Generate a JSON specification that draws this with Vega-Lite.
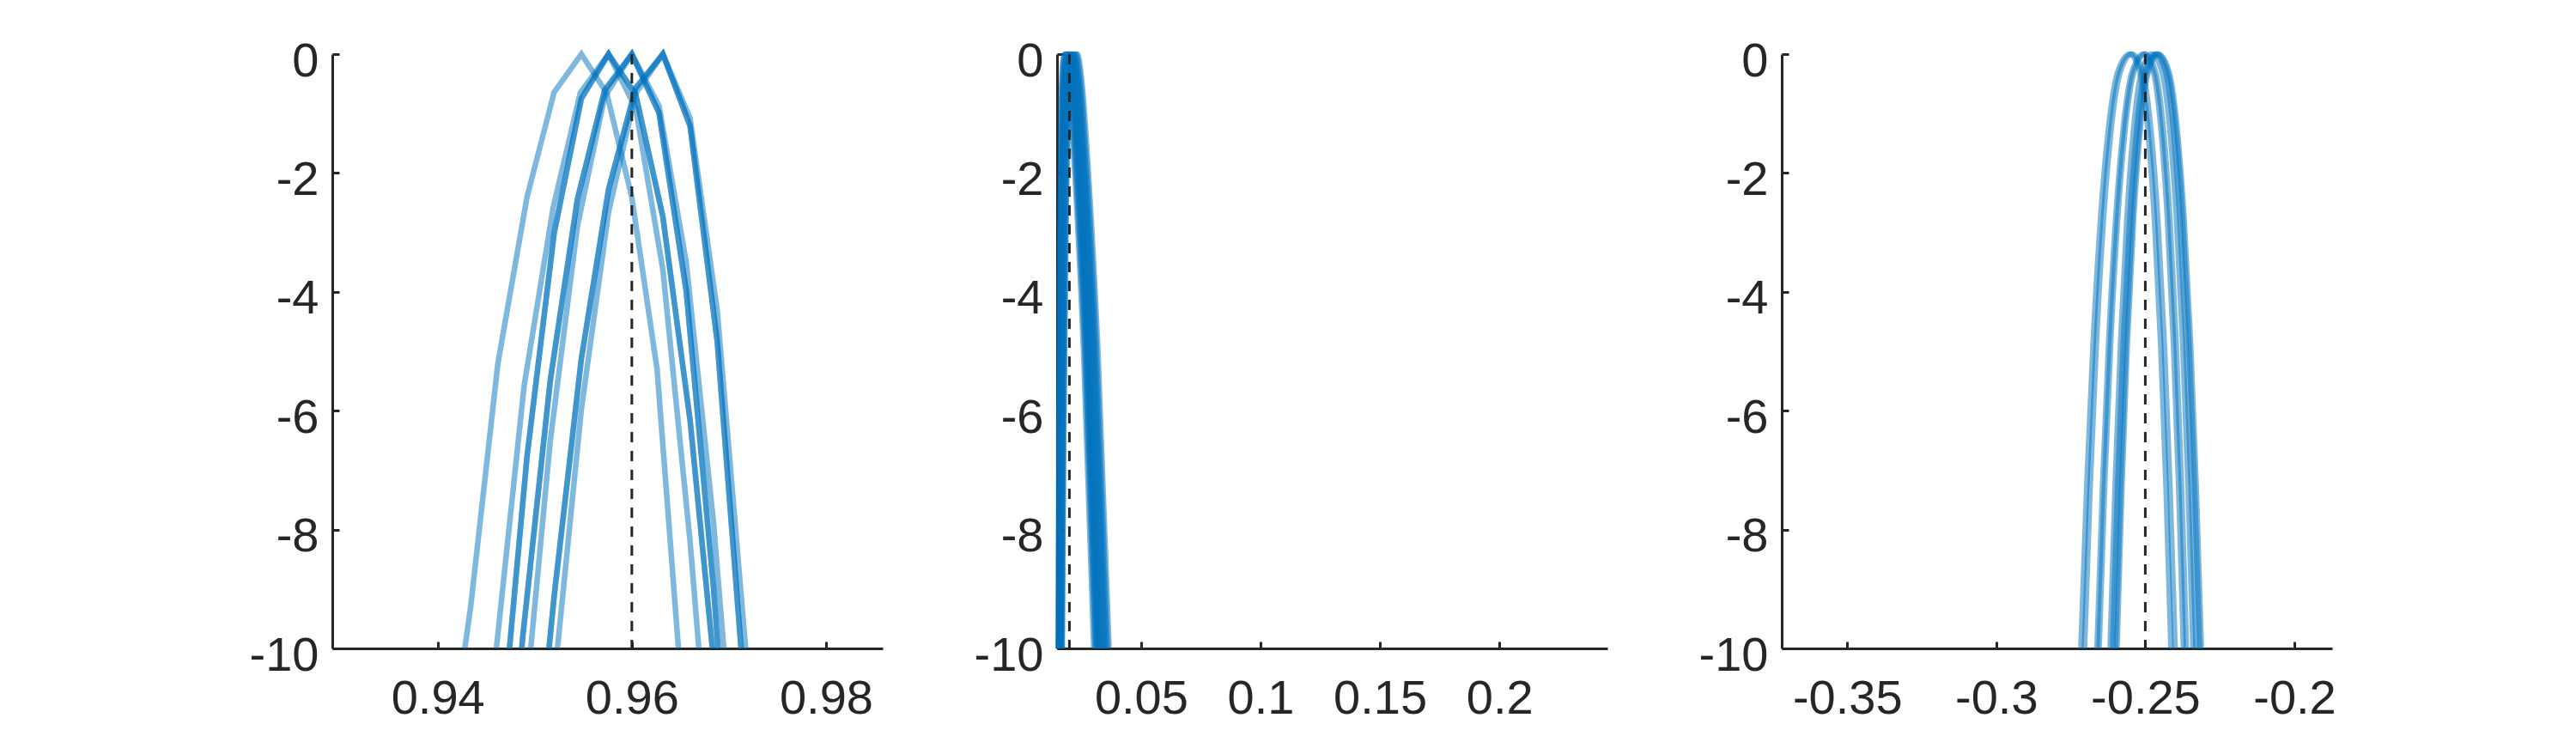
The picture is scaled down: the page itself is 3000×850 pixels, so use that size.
{
  "$schema": "https://vega.github.io/schema/vega-lite/v6.json",
  "padding": {"left": 290, "top": 43, "right": 10, "bottom": 0},
  "background": "white",
  "bounds": "flush",
  "spacing": 203,
  "config": {
    "view": {"stroke": null},
    "axis": {
      "domainColor": "#262626", "domainWidth": 3, "tickColor": "#262626", "tickWidth": 3, "tickSize": -8,
      "labelFont": "Liberation Sans", "labelFontSize": 56, "labelColor": "#262626", "grid": false,
      "labelFlush": false, "labelOverlap": false
    },
    "axisX": {"labelPadding": 39},
    "axisY": {"labelPadding": 24, "labelOffset": 8}
  },
  "datasets": {
    "p1": [
      {"c":"C1","x":0.9428,"y":-10},{"c":"C1","x":0.9434,"y":-9.3},{"c":"C1","x":0.9462,"y":-5.21},{"c":"C1","x":0.9492,"y":-2.41},{"c":"C1","x":0.952,"y":-0.64},{"c":"C1","x":0.9548,"y":0},{"c":"C1","x":0.9574,"y":-0.65},{"c":"C1","x":0.96,"y":-2.41},{"c":"C1","x":0.9626,"y":-5.3},{"c":"C1","x":0.9648,"y":-10},
      {"c":"C2","x":0.94605,"y":-10},{"c":"C2","x":0.9489,"y":-5.59},{"c":"C2","x":0.9519,"y":-2.58},{"c":"C2","x":0.9547,"y":-0.65},{"c":"C2","x":0.9576,"y":0},{"c":"C2","x":0.9604,"y":-0.91},{"c":"C2","x":0.9632,"y":-3.63},{"c":"C2","x":0.966,"y":-8.2},{"c":"C2","x":0.9669,"y":-10},
      {"c":"C3a","x":0.9474,"y":-10},{"c":"C3a","x":0.9492,"y":-6.78},{"c":"C3a","x":0.952,"y":-3.01},{"c":"C3a","x":0.9548,"y":-0.75},{"c":"C3a","x":0.9576,"y":0},{"c":"C3a","x":0.9604,"y":-0.68},{"c":"C3a","x":0.9632,"y":-2.74},{"c":"C3a","x":0.966,"y":-6.16},{"c":"C3a","x":0.9683,"y":-10},
      {"c":"C3b","x":0.9474,"y":-10},{"c":"C3b","x":0.9492,"y":-6.78},{"c":"C3b","x":0.952,"y":-3.01},{"c":"C3b","x":0.9548,"y":-0.75},{"c":"C3b","x":0.9576,"y":0},{"c":"C3b","x":0.9604,"y":-0.68},{"c":"C3b","x":0.9632,"y":-2.74},{"c":"C3b","x":0.966,"y":-6.16},{"c":"C3b","x":0.9683,"y":-10},
      {"c":"C4a","x":0.94866,"y":-10},{"c":"C4a","x":0.9488,"y":-9.75},{"c":"C4a","x":0.9516,"y":-5.49},{"c":"C4a","x":0.9544,"y":-2.44},{"c":"C4a","x":0.9572,"y":-0.61},{"c":"C4a","x":0.96,"y":0},{"c":"C4a","x":0.9628,"y":-0.99},{"c":"C4a","x":0.9656,"y":-3.98},{"c":"C4a","x":0.9684,"y":-8.95},{"c":"C4a","x":0.96888,"y":-10},
      {"c":"C4b","x":0.94866,"y":-10},{"c":"C4b","x":0.9488,"y":-9.75},{"c":"C4b","x":0.9516,"y":-5.49},{"c":"C4b","x":0.9544,"y":-2.44},{"c":"C4b","x":0.9572,"y":-0.61},{"c":"C4b","x":0.96,"y":0},{"c":"C4b","x":0.9628,"y":-0.99},{"c":"C4b","x":0.9656,"y":-3.98},{"c":"C4b","x":0.9684,"y":-8.95},{"c":"C4b","x":0.96888,"y":-10},
      {"c":"C5","x":0.94959,"y":-10},{"c":"C5","x":0.9516,"y":-6.51},{"c":"C5","x":0.9544,"y":-2.89},{"c":"C5","x":0.9572,"y":-0.72},{"c":"C5","x":0.96,"y":0},{"c":"C5","x":0.9628,"y":-0.87},{"c":"C5","x":0.9656,"y":-3.5},{"c":"C5","x":0.9684,"y":-7.86},{"c":"C5","x":0.96947,"y":-10},
      {"c":"C6a","x":0.95147,"y":-10},{"c":"C6a","x":0.952,"y":-9.12},{"c":"C6a","x":0.9548,"y":-5.13},{"c":"C6a","x":0.9576,"y":-2.28},{"c":"C6a","x":0.9604,"y":-0.57},{"c":"C6a","x":0.9632,"y":0},{"c":"C6a","x":0.966,"y":-1.21},{"c":"C6a","x":0.9688,"y":-4.84},{"c":"C6a","x":0.97125,"y":-10},
      {"c":"C6b","x":0.95147,"y":-10},{"c":"C6b","x":0.952,"y":-9.12},{"c":"C6b","x":0.9548,"y":-5.13},{"c":"C6b","x":0.9576,"y":-2.28},{"c":"C6b","x":0.9604,"y":-0.57},{"c":"C6b","x":0.9632,"y":0},{"c":"C6b","x":0.966,"y":-1.21},{"c":"C6b","x":0.9688,"y":-4.84},{"c":"C6b","x":0.97125,"y":-10},
      {"c":"C7","x":0.95234,"y":-10},{"c":"C7","x":0.9548,"y":-5.98},{"c":"C7","x":0.9576,"y":-2.66},{"c":"C7","x":0.9604,"y":-0.66},{"c":"C7","x":0.9632,"y":0},{"c":"C7","x":0.966,"y":-1.08},{"c":"C7","x":0.9688,"y":-4.32},{"c":"C7","x":0.97172,"y":-10}
    ],
    "p2": [
      {"c":"1","x":0.0153,"y":-10},{"c":"1","x":0.01557,"y":-6.5},{"c":"1","x":0.015975,"y":-3},{"c":"1","x":0.016515,"y":-0.9},{"c":"1","x":0.01719,"y":-0.15},{"c":"1","x":0.018,"y":0},{"c":"1","x":0.01983,"y":-0.5},{"c":"1","x":0.02227,"y":-2},{"c":"1","x":0.02593,"y":-5},{"c":"1","x":0.0302,"y":-10},
      {"c":"2","x":0.0155,"y":-10},{"c":"2","x":0.01579,"y":-6.5},{"c":"2","x":0.016225,"y":-3},{"c":"2","x":0.016805,"y":-0.9},{"c":"2","x":0.01753,"y":-0.15},{"c":"2","x":0.0184,"y":0},{"c":"2","x":0.02026,"y":-0.5},{"c":"2","x":0.02274,"y":-2},{"c":"2","x":0.02646,"y":-5},{"c":"2","x":0.0308,"y":-10},
      {"c":"3","x":0.0154,"y":-10},{"c":"3","x":0.01574,"y":-6.5},{"c":"3","x":0.01625,"y":-3},{"c":"3","x":0.01693,"y":-0.9},{"c":"3","x":0.01778,"y":-0.15},{"c":"3","x":0.0188,"y":0},{"c":"3","x":0.02066,"y":-0.5},{"c":"3","x":0.02314,"y":-2},{"c":"3","x":0.02686,"y":-5},{"c":"3","x":0.0312,"y":-10},
      {"c":"4","x":0.0157,"y":-10},{"c":"4","x":0.01605,"y":-6.5},{"c":"4","x":0.016575,"y":-3},{"c":"4","x":0.017275,"y":-0.9},{"c":"4","x":0.01815,"y":-0.15},{"c":"4","x":0.0192,"y":0},{"c":"4","x":0.02106,"y":-0.5},{"c":"4","x":0.02354,"y":-2},{"c":"4","x":0.02726,"y":-5},{"c":"4","x":0.0316,"y":-10},
      {"c":"5","x":0.0156,"y":-10},{"c":"5","x":0.016,"y":-6.5},{"c":"5","x":0.0166,"y":-3},{"c":"5","x":0.0174,"y":-0.9},{"c":"5","x":0.0184,"y":-0.15},{"c":"5","x":0.0196,"y":0},{"c":"5","x":0.02146,"y":-0.5},{"c":"5","x":0.02394,"y":-2},{"c":"5","x":0.02766,"y":-5},{"c":"5","x":0.032,"y":-10},
      {"c":"6","x":0.0159,"y":-10},{"c":"6","x":0.0163,"y":-6.5},{"c":"6","x":0.0169,"y":-3},{"c":"6","x":0.0177,"y":-0.9},{"c":"6","x":0.0187,"y":-0.15},{"c":"6","x":0.0199,"y":0},{"c":"6","x":0.021775,"y":-0.5},{"c":"6","x":0.024275,"y":-2},{"c":"6","x":0.028025,"y":-5},{"c":"6","x":0.0324,"y":-10},
      {"c":"7","x":0.0158,"y":-10},{"c":"7","x":0.01624,"y":-6.5},{"c":"7","x":0.0169,"y":-3},{"c":"7","x":0.01778,"y":-0.9},{"c":"7","x":0.01888,"y":-0.15},{"c":"7","x":0.0202,"y":0},{"c":"7","x":0.02209,"y":-0.5},{"c":"7","x":0.02461,"y":-2},{"c":"7","x":0.02839,"y":-5},{"c":"7","x":0.0328,"y":-10},
      {"c":"8","x":0.0161,"y":-10},{"c":"8","x":0.01655,"y":-6.5},{"c":"8","x":0.017225,"y":-3},{"c":"8","x":0.018125,"y":-0.9},{"c":"8","x":0.01925,"y":-0.15},{"c":"8","x":0.0206,"y":0},{"c":"8","x":0.022505,"y":-0.5},{"c":"8","x":0.025045,"y":-2},{"c":"8","x":0.028855,"y":-5},{"c":"8","x":0.0333,"y":-10},
      {"c":"9","x":0.016,"y":-10},{"c":"9","x":0.0165,"y":-6.5},{"c":"9","x":0.01725,"y":-3},{"c":"9","x":0.01825,"y":-0.9},{"c":"9","x":0.0195,"y":-0.15},{"c":"9","x":0.021,"y":0},{"c":"9","x":0.02292,"y":-0.5},{"c":"9","x":0.02548,"y":-2},{"c":"9","x":0.02932,"y":-5},{"c":"9","x":0.0338,"y":-10},
      {"c":"10","x":0.0163,"y":-10},{"c":"10","x":0.01681,"y":-6.5},{"c":"10","x":0.017575,"y":-3},{"c":"10","x":0.018595,"y":-0.9},{"c":"10","x":0.01987,"y":-0.15},{"c":"10","x":0.0214,"y":0},{"c":"10","x":0.023335,"y":-0.5},{"c":"10","x":0.025915,"y":-2},{"c":"10","x":0.029785,"y":-5},{"c":"10","x":0.0343,"y":-10},
      {"c":"11","x":0.0165,"y":-10},{"c":"11","x":0.01703,"y":-6.5},{"c":"11","x":0.017825,"y":-3},{"c":"11","x":0.018885,"y":-0.9},{"c":"11","x":0.02021,"y":-0.15},{"c":"11","x":0.0218,"y":0},{"c":"11","x":0.02375,"y":-0.5},{"c":"11","x":0.02635,"y":-2},{"c":"11","x":0.03025,"y":-5},{"c":"11","x":0.0348,"y":-10},
      {"c":"12","x":0.0167,"y":-10},{"c":"12","x":0.01726,"y":-6.5},{"c":"12","x":0.0181,"y":-3},{"c":"12","x":0.01922,"y":-0.9},{"c":"12","x":0.02062,"y":-0.15},{"c":"12","x":0.0223,"y":0},{"c":"12","x":0.024265,"y":-0.5},{"c":"12","x":0.026885,"y":-2},{"c":"12","x":0.030815,"y":-5},{"c":"12","x":0.0354,"y":-10},
      {"c":"13","x":0.0169,"y":-10},{"c":"13","x":0.01749,"y":-6.5},{"c":"13","x":0.018375,"y":-3},{"c":"13","x":0.019555,"y":-0.9},{"c":"13","x":0.02103,"y":-0.15},{"c":"13","x":0.0228,"y":0},{"c":"13","x":0.02478,"y":-0.5},{"c":"13","x":0.02742,"y":-2},{"c":"13","x":0.03138,"y":-5},{"c":"13","x":0.036,"y":-10},
      {"c":"14","x":0.017,"y":-10},{"c":"14","x":0.01763,"y":-6.5},{"c":"14","x":0.018575,"y":-3},{"c":"14","x":0.019835,"y":-0.9},{"c":"14","x":0.02141,"y":-0.15},{"c":"14","x":0.0233,"y":0},{"c":"14","x":0.025295,"y":-0.5},{"c":"14","x":0.027955,"y":-2},{"c":"14","x":0.031945,"y":-5},{"c":"14","x":0.0366,"y":-10}
    ],
    "p3": [
      {"c":"P1","x":-0.2716,"y":-10},{"c":"P1","x":-0.26963,"y":-7.26},{"c":"P1","x":-0.2675,"y":-4.87},{"c":"P1","x":-0.26504,"y":-2.79},{"c":"P1","x":-0.26258,"y":-1.36},{"c":"P1","x":-0.2593,"y":-0.31},{"c":"P1","x":-0.2552,"y":0},{"c":"P1","x":-0.25175,"y":-0.31},{"c":"P1","x":-0.24899,"y":-1.36},{"c":"P1","x":-0.24692,"y":-2.79},{"c":"P1","x":-0.24485,"y":-4.87},{"c":"P1","x":-0.24306,"y":-7.26},{"c":"P1","x":-0.2414,"y":-10},
      {"c":"P2","x":-0.2704,"y":-10},{"c":"P2","x":-0.26849,"y":-7.26},{"c":"P2","x":-0.26643,"y":-4.87},{"c":"P2","x":-0.26404,"y":-2.79},{"c":"P2","x":-0.26166,"y":-1.36},{"c":"P2","x":-0.25848,"y":-0.31},{"c":"P2","x":-0.2545,"y":0},{"c":"P2","x":-0.25087,"y":-0.31},{"c":"P2","x":-0.24797,"y":-1.36},{"c":"P2","x":-0.2458,"y":-2.79},{"c":"P2","x":-0.24362,"y":-4.87},{"c":"P2","x":-0.24174,"y":-7.26},{"c":"P2","x":-0.24,"y":-10},
      {"c":"P3","x":-0.2662,"y":-10},{"c":"P3","x":-0.26433,"y":-7.26},{"c":"P3","x":-0.2623,"y":-4.87},{"c":"P3","x":-0.25996,"y":-2.79},{"c":"P3","x":-0.25762,"y":-1.36},{"c":"P3","x":-0.2545,"y":-0.31},{"c":"P3","x":-0.2506,"y":0},{"c":"P3","x":-0.24725,"y":-0.31},{"c":"P3","x":-0.24457,"y":-1.36},{"c":"P3","x":-0.24256,"y":-2.79},{"c":"P3","x":-0.24055,"y":-4.87},{"c":"P3","x":-0.23881,"y":-7.26},{"c":"P3","x":-0.2372,"y":-10},
      {"c":"P4","x":-0.2655,"y":-10},{"c":"P4","x":-0.26364,"y":-7.26},{"c":"P4","x":-0.26163,"y":-4.87},{"c":"P4","x":-0.2593,"y":-2.79},{"c":"P4","x":-0.25698,"y":-1.36},{"c":"P4","x":-0.25388,"y":-0.31},{"c":"P4","x":-0.25,"y":0},{"c":"P4","x":-0.24655,"y":-0.31},{"c":"P4","x":-0.24379,"y":-1.36},{"c":"P4","x":-0.24172,"y":-2.79},{"c":"P4","x":-0.23965,"y":-4.87},{"c":"P4","x":-0.23786,"y":-7.26},{"c":"P4","x":-0.2362,"y":-10},
      {"c":"P5","x":-0.2618,"y":-10},{"c":"P5","x":-0.26012,"y":-7.26},{"c":"P5","x":-0.2583,"y":-4.87},{"c":"P5","x":-0.2562,"y":-2.79},{"c":"P5","x":-0.2541,"y":-1.36},{"c":"P5","x":-0.2513,"y":-0.31},{"c":"P5","x":-0.2478,"y":0},{"c":"P5","x":-0.24435,"y":-0.31},{"c":"P5","x":-0.24159,"y":-1.36},{"c":"P5","x":-0.23952,"y":-2.79},{"c":"P5","x":-0.23745,"y":-4.87},{"c":"P5","x":-0.23566,"y":-7.26},{"c":"P5","x":-0.234,"y":-10},
      {"c":"P6","x":-0.261,"y":-10},{"c":"P6","x":-0.25926,"y":-7.26},{"c":"P6","x":-0.25738,"y":-4.87},{"c":"P6","x":-0.2552,"y":-2.79},{"c":"P6","x":-0.25303,"y":-1.36},{"c":"P6","x":-0.25013,"y":-0.31},{"c":"P6","x":-0.2465,"y":0},{"c":"P6","x":-0.24312,"y":-0.31},{"c":"P6","x":-0.24042,"y":-1.36},{"c":"P6","x":-0.2384,"y":-2.79},{"c":"P6","x":-0.23637,"y":-4.87},{"c":"P6","x":-0.23462,"y":-7.26},{"c":"P6","x":-0.233,"y":-10},
      {"c":"P7","x":-0.26,"y":-10},{"c":"P7","x":-0.25832,"y":-7.26},{"c":"P7","x":-0.2565,"y":-4.87},{"c":"P7","x":-0.2544,"y":-2.79},{"c":"P7","x":-0.2523,"y":-1.36},{"c":"P7","x":-0.2495,"y":-0.31},{"c":"P7","x":-0.246,"y":0},{"c":"P7","x":-0.24245,"y":-0.31},{"c":"P7","x":-0.23961,"y":-1.36},{"c":"P7","x":-0.23748,"y":-2.79},{"c":"P7","x":-0.23535,"y":-4.87},{"c":"P7","x":-0.2335,"y":-7.26},{"c":"P7","x":-0.2318,"y":-10},
      {"c":"P8","x":-0.2595,"y":-10},{"c":"P8","x":-0.25783,"y":-7.26},{"c":"P8","x":-0.25603,"y":-4.87},{"c":"P8","x":-0.25394,"y":-2.79},{"c":"P8","x":-0.25186,"y":-1.36},{"c":"P8","x":-0.24908,"y":-0.31},{"c":"P8","x":-0.2456,"y":0},{"c":"P8","x":-0.242,"y":-0.31},{"c":"P8","x":-0.23912,"y":-1.36},{"c":"P8","x":-0.23696,"y":-2.79},{"c":"P8","x":-0.2348,"y":-4.87},{"c":"P8","x":-0.23293,"y":-7.26},{"c":"P8","x":-0.2312,"y":-10}
    ]
  },
  "hconcat": [
    {
      "width": 641, "height": 692,
      "layer": [
        {
          "data": {"name": "p1"},
          "mark": {"type": "line", "color": "#0072BD", "opacity": 0.5, "strokeWidth": 6.5, "interpolate": "linear"},
          "encoding": {
            "x": {"field": "x", "type": "quantitative", "scale": {"domain": [0.92915, 0.98584], "nice": false, "zero": false},
                  "axis": {"values": [0.94, 0.96, 0.98], "title": null, "labelExpr": "'' + datum.value"}},
            "y": {"field": "y", "type": "quantitative", "scale": {"domain": [-10, 0], "nice": false, "zero": false},
                  "axis": {"values": [-10, -8, -6, -4, -2, 0], "title": null, "labelExpr": "'' + datum.value"}},
            "detail": {"field": "c"}
          }
        },
        {
          "data": {"values": [{"x": 0.96}]},
          "mark": {"type": "rule", "strokeDash": [12, 10], "strokeWidth": 3, "color": "#262626"},
          "encoding": {"x": {"field": "x", "type": "quantitative"}, "y": {"datum": 0}, "y2": {"datum": -10}}
        }
      ]
    },
    {
      "width": 641, "height": 692,
      "layer": [
        {
          "data": {"name": "p2"},
          "mark": {"type": "line", "color": "#0072BD", "opacity": 0.5, "strokeWidth": 6.5, "interpolate": "monotone"},
          "encoding": {
            "x": {"field": "x", "type": "quantitative", "scale": {"domain": [0.01482, 0.2452], "nice": false, "zero": false},
                  "axis": {"values": [0.05, 0.1, 0.15, 0.2], "title": null, "labelExpr": "'' + datum.value"}},
            "y": {"field": "y", "type": "quantitative", "scale": {"domain": [-10, 0], "nice": false, "zero": false},
                  "axis": {"values": [-10, -8, -6, -4, -2, 0], "title": null, "labelExpr": "'' + datum.value"}},
            "detail": {"field": "c"}
          }
        },
        {
          "data": {"values": [{"x": 0.02}]},
          "mark": {"type": "rule", "strokeDash": [12, 10], "strokeWidth": 3, "color": "#262626"},
          "encoding": {"x": {"field": "x", "type": "quantitative"}, "y": {"datum": 0}, "y2": {"datum": -10}}
        }
      ]
    },
    {
      "width": 641, "height": 692,
      "layer": [
        {
          "data": {"name": "p3"},
          "mark": {"type": "line", "color": "#0072BD", "opacity": 0.5, "strokeWidth": 6.5, "interpolate": "monotone"},
          "encoding": {
            "x": {"field": "x", "type": "quantitative", "scale": {"domain": [-0.37195, -0.18733], "nice": false, "zero": false},
                  "axis": {"values": [-0.35, -0.3, -0.25, -0.2], "title": null, "labelExpr": "'' + datum.value"}},
            "y": {"field": "y", "type": "quantitative", "scale": {"domain": [-10, 0], "nice": false, "zero": false},
                  "axis": {"values": [-10, -8, -6, -4, -2, 0], "title": null, "labelExpr": "'' + datum.value"}},
            "detail": {"field": "c"}
          }
        },
        {
          "data": {"values": [{"x": -0.25}]},
          "mark": {"type": "rule", "strokeDash": [12, 10], "strokeWidth": 3, "color": "#262626"},
          "encoding": {"x": {"field": "x", "type": "quantitative"}, "y": {"datum": 0}, "y2": {"datum": -10}}
        }
      ]
    }
  ]
}
